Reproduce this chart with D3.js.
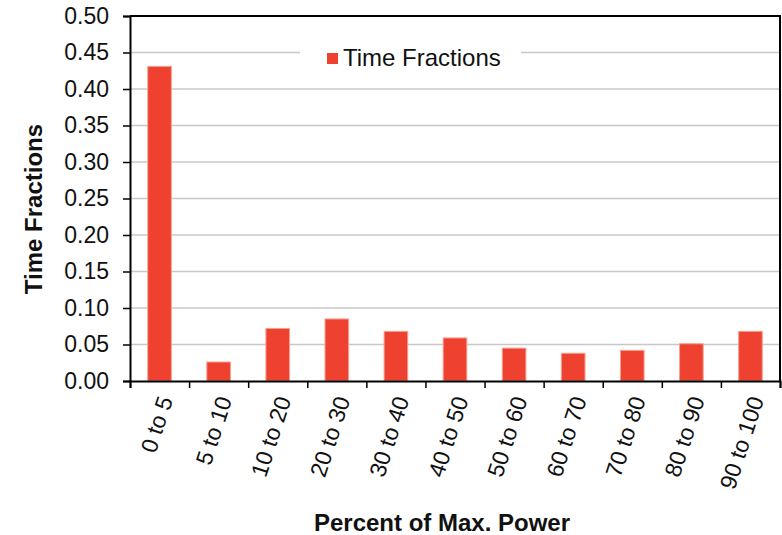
<!DOCTYPE html>
<html>
<head>
<meta charset="utf-8">
<script src="https://cdn.jsdelivr.net/npm/d3@7"></script>
<style>
  body { margin: 0; background: #fff; }
  text { font-family: "Liberation Sans", Arial, sans-serif; fill: #111; }
</style>
</head>
<body>
<div id="chart"></div>
<script>
const categories = ["0 to 5", "5 to 10", "10 to 20", "20 to 30", "30 to 40", "40 to 50",
  "50 to 60", "60 to 70", "70 to 80", "80 to 90", "90 to 100"];
const timeFractions = [0.431, 0.026, 0.072, 0.085, 0.068, 0.059, 0.045, 0.038, 0.042, 0.051, 0.068];
const yTicks = [0, 0.05, 0.1, 0.15, 0.2, 0.25, 0.3, 0.35, 0.4, 0.45, 0.5];

const width = 782, height = 535;
const margin = { top: 16, right: 2, bottom: 154, left: 130 };
const innerW = width - margin.left - margin.right;
const innerH = height - margin.top - margin.bottom;

const svg = d3.select("#chart").append("svg")
  .attr("width", width)
  .attr("height", height);

const g = svg.append("g")
  .attr("transform", `translate(${margin.left},${margin.top})`);

const x = d3.scaleBand().domain(categories).range([0, innerW]).paddingInner(0.6).paddingOuter(0.3);
const xEdges = d3.scaleLinear().domain([0, categories.length]).range([0, innerW]);
const y = d3.scaleLinear().domain([0, 0.5]).range([innerH, 0]);

// gridlines
g.selectAll("line.grid")
  .data(yTicks.filter(d => d > 0 && d < 0.5))
  .join("line")
  .attr("class", "grid")
  .attr("x1", 0).attr("x2", innerW)
  .attr("y1", d => y(d)).attr("y2", d => y(d))
  .attr("stroke", "#c8c8c8")
  .attr("stroke-width", 1.5);

// bars
g.selectAll("rect.bar")
  .data(timeFractions)
  .join("rect")
  .attr("class", "bar")
  .attr("x", (d, i) => x(categories[i]))
  .attr("width", x.bandwidth())
  .attr("y", d => y(d))
  .attr("height", d => innerH - y(d))
  .attr("fill", "#ef4130")
  .attr("stroke", "#f7a090")
  .attr("stroke-width", 1);

// top and right border
g.append("path")
  .attr("d", `M0,0H${innerW}V${innerH}`)
  .attr("fill", "none")
  .attr("stroke", "#000")
  .attr("stroke-width", 2);

// y axis
const yAxis = g.append("g")
  .call(d3.axisLeft(y).tickValues(yTicks).tickFormat(d3.format(".2f")).tickSizeOuter(0).tickSize(7).tickPadding(14));
yAxis.select(".domain").attr("stroke", "#000").attr("stroke-width", 2);
yAxis.selectAll(".tick line").attr("stroke", "#000").attr("stroke-width", 1.5);
yAxis.selectAll("text").style("font-size", "23px").attr("fill", "#111")
  .style("font-family", '"Liberation Sans", Arial, sans-serif');

// x axis: ticks at category boundaries
const xAxis = g.append("g")
  .attr("transform", `translate(0,${innerH})`)
  .call(d3.axisBottom(xEdges).tickValues(d3.range(categories.length + 1)).tickFormat("").tickSizeOuter(0).tickSize(7));
xAxis.select(".domain").attr("stroke", "#000").attr("stroke-width", 2);
xAxis.selectAll(".tick line").attr("stroke", "#000").attr("stroke-width", 1.5);

// x tick labels
g.selectAll("text.xlab")
  .data(categories)
  .join("text")
  .attr("class", "xlab")
  .attr("transform", d => `translate(${x(d) + x.bandwidth() / 2 + 6},${innerH + 16}) rotate(-72)`)
  .attr("text-anchor", "end")
  .attr("dy", "0.35em")
  .style("font-size", "23px")
  .text(d => d);

// axis titles
svg.append("text")
  .attr("x", margin.left + innerW / 2 - 13)
  .attr("y", 531)
  .attr("text-anchor", "middle")
  .style("font-size", "24px")
  .style("font-weight", "bold")
  .text("Percent of Max. Power");

svg.append("text")
  .attr("transform", `translate(42,209) rotate(-90)`)
  .attr("text-anchor", "middle")
  .style("font-size", "24px")
  .style("font-weight", "bold")
  .text("Time Fractions");

// legend
const legend = svg.append("g");
legend.append("rect")
  .attr("x", 300).attr("y", 38).attr("width", 221).attr("height", 36)
  .attr("fill", "#fff");
legend.append("rect")
  .attr("x", 327).attr("y", 53).attr("width", 11).attr("height", 11)
  .attr("fill", "#ef4130");
legend.append("text")
  .attr("x", 343).attr("y", 66)
  .style("font-size", "24px")
  .text("Time Fractions");
</script>
</body>
</html>
